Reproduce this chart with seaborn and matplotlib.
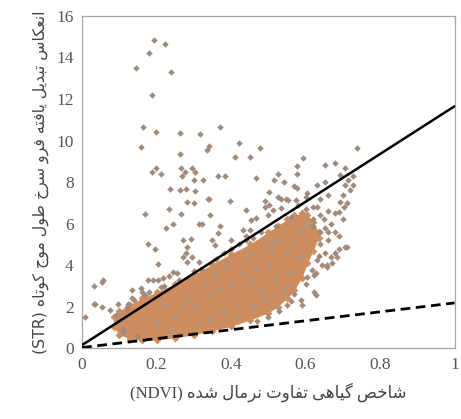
import numpy as np
import pandas as pd
import matplotlib
matplotlib.use("Agg")
import matplotlib.pyplot as plt
import seaborn as sns

# ---------------- data ----------------
# scattered (grey-brown) points outside the dense core
out_x = [0.145, 0.18, 0.194, 0.223, 0.24, 0.187,
         0.163, 0.198, 0.264, 0.317, 0.37, 0.158, 0.34, 0.335, 0.42, 0.262, 0.41, 0.45, 0.477, 0.737, 0.594,
         0.187, 0.198, 0.213, 0.267, 0.265, 0.277, 0.30, 0.366, 0.384, 0.578, 0.653, 0.68, 0.706, 0.525,
         0.468, 0.576, 0.516, 0.543, 0.693, 0.728, 0.326, 0.295, 0.304,
         0.235, 0.263, 0.278, 0.304, 0.282, 0.30, 0.338, 0.569, 0.578, 0.503, 0.63, 0.728, 0.525, 0.547,
         0.49, 0.397, 0.653, 0.34, 0.44, 0.534, 0.552, 0.49, 0.503, 0.605, 0.574, 0.715, 0.706,
         0.233, 0.17, 0.265, 0.344, 0.313, 0.322, 0.37, 0.366, 0.348, 0.357, 0.40, 0.432, 0.454, 0.468,
         0.45, 0.44, 0.50, 0.512, 0.534,
         0.225, 0.243, 0.177, 0.196, 0.205, 0.27, 0.292, 0.283, 0.279, 0.27, 0.296, 0.283, 0.314,
         0.057, 0.053, 0.031, 0.177, 0.19, 0.203, 0.217, 0.234, 0.243, 0.256, 0.212, 0.157, 0.162,
         0.168, 0.133, 0.133, 0.031, 0.053, 0.097, 0.124, 0.008, 0.074, 0.035,
         0.71, 0.702, 0.693, 0.68, 0.689, 0.667, 0.653, 0.64, 0.71, 0.689, 0.68, 0.667, 0.653, 0.636,
         0.631, 0.645, 0.658, 0.618, 0.627, 0.706, 0.684, 0.671, 0.658, 0.622, 0.605, 0.622, 0.627,
         0.587, 0.59, 0.56,
         0.62, 0.64, 0.66, 0.60, 0.58, 0.66, 0.70, 0.72, 0.64, 0.62, 0.70, 0.68, 0.66, 0.69,
         0.10, 0.11, 0.09, 0.12,
         0.32, 0.36, 0.38, 0.42, 0.46, 0.48, 0.52, 0.40, 0.44, 0.30, 0.26, 0.22, 0.18, 0.14, 0.12,
         0.56, 0.60, 0.63, 0.65, 0.62, 0.66, 0.64, 0.60, 0.57, 0.55, 0.53, 0.50, 0.47, 0.15, 0.11]
out_y = [13.5, 14.2, 14.84, 14.65, 13.3, 12.2,
         10.67, 10.43, 10.35, 10.3, 10.67, 9.7, 9.73, 9.54, 9.9, 9.33, 9.19, 9.2, 9.66, 9.66, 9.14,
         8.5, 8.7, 8.37, 8.27, 8.7, 8.5, 8.12, 8.27, 8.27, 8.79, 8.8, 8.9, 8.67, 8.4,
         8.18, 8.37, 8.1, 8.0, 8.35, 8.3, 8.1, 8.66, 8.5,
         7.66, 7.6, 7.66, 7.55, 7.06, 7.0, 7.19, 7.8, 7.7, 7.5, 7.87, 7.87, 7.3, 7.17,
         7.07, 7.07, 7.98, 7.17, 6.65, 7.2, 7.13, 6.8, 6.9, 7.45, 7.13, 8.1, 7.87,
         6.68, 6.46, 6.46, 6.42, 6.0, 6.0, 5.86, 5.53, 5.2, 4.96, 5.2, 5.7, 6.17, 6.25,
         5.7, 5.4, 6.42, 6.65, 6.73,
         5.8, 6.0, 5.04, 4.8, 4.05, 5.2, 5.28, 4.88, 4.56, 4.4, 4.4, 4.16, 4.16,
         3.28, 3.2, 2.99, 3.3, 3.3, 3.3, 3.4, 3.5, 3.67, 3.6, 2.96, 2.88, 2.72,
         2.55, 2.8, 2.4, 2.15, 2.0, 2.15, 2.15, 1.48, 1.83, 2.15,
         6.97, 6.82, 7.06, 6.49, 6.57, 6.0, 5.77, 5.6, 4.85, 4.77, 4.56, 4.37, 4.56, 4.43,
         4.24, 4.0, 4.0, 3.76, 3.6, 4.88, 4.4, 4.08, 3.93, 3.52, 3.44, 2.72, 2.55,
         2.3, 2.07, 2.25,
         6.8, 7.2, 7.4, 7.3, 6.9, 6.6, 7.4, 7.6, 6.4, 6.2, 6.2, 5.6, 5.2, 5.4,
         1.3, 0.9, 1.6, 1.9,
         3.8, 4.3, 4.6, 5.0, 5.3, 5.6, 5.9, 4.8, 5.2, 3.7, 3.3, 3.0, 2.7, 2.3, 2.0,
         6.3, 6.7, 6.8, 6.2, 5.9, 5.6, 5.0, 3.1, 2.6, 2.1, 1.8, 1.5, 1.3, 0.6, 0.8]

# grey-brown points mixed inside the dense core
in_x = [0.30, 0.35, 0.40, 0.45, 0.50, 0.55, 0.25, 0.20, 0.42, 0.48, 0.38, 0.52, 0.57, 0.33, 0.28,
        0.44, 0.47, 0.53, 0.56, 0.59, 0.36, 0.41, 0.49, 0.54, 0.58, 0.31, 0.46, 0.51,
        0.22, 0.27, 0.34, 0.39, 0.43, 0.37, 0.29, 0.24, 0.55, 0.51, 0.45, 0.60]
in_y = [2.0, 2.5, 3.0, 3.2, 4.0, 4.5, 1.5, 1.2, 2.2, 2.8, 1.8, 3.3, 5.0, 3.0, 2.6,
        4.2, 3.8, 5.2, 3.6, 5.6, 3.5, 1.6, 2.4, 2.7, 4.4, 1.1, 2.0, 4.8,
        2.1, 1.9, 1.4, 3.9, 3.6, 2.9, 2.3, 0.9, 3.0, 5.1, 4.6, 6.0]

# envelope of the saturated core of the point cloud
env_x = [0.085, 0.10, 0.13, 0.16, 0.20, 0.25, 0.30, 0.35, 0.40, 0.45, 0.50, 0.525, 0.55, 0.57,
         0.59, 0.605, 0.62, 0.635]
env_hi = [1.5, 1.8, 2.1, 2.4, 2.7, 3.1, 3.55, 4.05, 4.55, 5.0, 5.6, 5.9, 6.2, 6.4, 6.5, 6.4, 6.1, 5.6]
env_lo = [1.0, 0.65, 0.45, 0.4, 0.4, 0.5, 0.65, 0.85, 1.05, 1.35, 1.7, 2.0, 2.4, 2.8, 3.4, 4.1, 4.7, 5.3]

# edge lines
line_x = [0.0, 1.0]
wet_y = [0.15, 11.65]
dry_y = [0.03, 2.18]

x_ticks = [0, 0.2, 0.4, 0.6, 0.8, 1]
x_ticklabels = ["0", "0.2", "0.4", "0.6", "0.8", "1"]
y_ticks = [0, 2, 4, 6, 8, 10, 12, 14, 16]

x_label_fa = "شاخص گیاهی تفاوت نرمال شده"
x_label_en = "(NDVI)"
y_label_fa = "انعکاس تبدیل یافته فرو سرخ طول موج کوتاه"
y_label_en = "(STR)"

# ---------------- simple Persian shaping (presentation forms) ----------------
FORMS = {
    'ا': ('\uFE8D', '\uFE8E', None, None),
    'ب': ('\uFE8F', '\uFE90', '\uFE91', '\uFE92'),
    'ت': ('\uFE95', '\uFE96', '\uFE97', '\uFE98'),
    'ج': ('\uFE9D', '\uFE9E', '\uFE9F', '\uFEA0'),
    'خ': ('\uFEA5', '\uFEA6', '\uFEA7', '\uFEA8'),
    'د': ('\uFEA9', '\uFEAA', None, None),
    'ر': ('\uFEAD', '\uFEAE', None, None),
    'س': ('\uFEB1', '\uFEB2', '\uFEB3', '\uFEB4'),
    'ش': ('\uFEB5', '\uFEB6', '\uFEB7', '\uFEB8'),
    'ص': ('\uFEB9', '\uFEBA', '\uFEBB', '\uFEBC'),
    'ط': ('\uFEC1', '\uFEC2', '\uFEC3', '\uFEC4'),
    'ع': ('\uFEC9', '\uFECA', '\uFECB', '\uFECC'),
    'ف': ('\uFED1', '\uFED2', '\uFED3', '\uFED4'),
    'ل': ('\uFEDD', '\uFEDE', '\uFEDF', '\uFEE0'),
    'م': ('\uFEE1', '\uFEE2', '\uFEE3', '\uFEE4'),
    'ن': ('\uFEE5', '\uFEE6', '\uFEE7', '\uFEE8'),
    'ه': ('\uFEE9', '\uFEEA', '\uFEEB', '\uFEEC'),
    'و': ('\uFEED', '\uFEEE', None, None),
    'ی': ('\uFBFC', '\uFBFD', '\uFBFE', '\uFBFF'),
    'ک': ('\uFB8E', '\uFB8F', '\uFB90', '\uFB91'),
    'گ': ('\uFB92', '\uFB93', '\uFB94', '\uFB95'),
}


def shape_word(w):
    out = []
    n = len(w)
    for i, ch in enumerate(w):
        f = FORMS.get(ch)
        if f is None:
            out.append(ch)
            continue
        prev_joins = i > 0 and w[i - 1] in FORMS and FORMS[w[i - 1]][2] is not None
        next_joins = (i < n - 1 and w[i + 1] in FORMS and f[2] is not None)
        if prev_joins and next_joins:
            out.append(f[3])
        elif prev_joins:
            out.append(f[1])
        elif next_joins:
            out.append(f[2])
        else:
            out.append(f[0])
    return "".join(out)


def visual(text):
    shaped = " ".join(shape_word(w) for w in text.split(" "))
    return shaped[::-1]


# ---------------- figure ----------------
sns.set_theme(style="white")
plt.rcParams["font.family"] = ["Liberation Serif", "DejaVu Sans"]

fig = plt.figure(figsize=(4.61, 4.19), dpi=100)
ax = fig.add_axes([0.178, 0.169, 0.808, 0.793])

grey = "#a08a7b"
orange = "#cd8d5f"

ax.fill_between(env_x, env_lo, env_hi, color=orange, linewidth=0, zorder=1)
sns.scatterplot(x=env_x, y=env_hi, marker="D", s=16, color=orange, linewidth=0, ax=ax, zorder=2)
sns.scatterplot(x=env_x, y=env_lo, marker="D", s=16, color=orange, linewidth=0, ax=ax, zorder=2)
sns.scatterplot(x=in_x, y=in_y, marker="D", s=12, color="#b39680", linewidth=0, ax=ax, zorder=2)
sns.scatterplot(x=out_x, y=out_y, marker="D", s=11, color=grey, linewidth=0, ax=ax, zorder=3)

sns.lineplot(x=line_x, y=wet_y, color="black", linewidth=1.8, ax=ax, zorder=4)
sns.lineplot(x=line_x, y=dry_y, color="black", linewidth=2.0, ax=ax, zorder=4)
ax.lines[-1].set_dashes([3.5, 2])

ax.set_xlim(0, 1)
ax.set_ylim(0, 16)
ax.set_xticks(x_ticks)
ax.set_xticklabels(x_ticklabels)
ax.set_yticks(y_ticks)

for s in ax.spines.values():
    s.set_color("#a6a6a6")
    s.set_linewidth(0.9)
ax.tick_params(direction="in", length=4, width=0.8, color="#a6a6a6",
               labelsize=12.5, labelcolor="#555555", pad=6)
for lab in ax.get_xticklabels() + ax.get_yticklabels():
    lab.set_family(["Liberation Serif", "DejaVu Sans"])

ax.set_xlabel(x_label_en + " " + visual(x_label_fa), fontsize=12, color="#444444",
              family=["Liberation Serif", "DejaVu Sans"], labelpad=7)
ax.set_ylabel(y_label_en + " " + visual(y_label_fa), fontsize=11.3, color="#444444",
              family=["DejaVu Sans"], labelpad=5)

fig.savefig("out.png", dpi=100)
